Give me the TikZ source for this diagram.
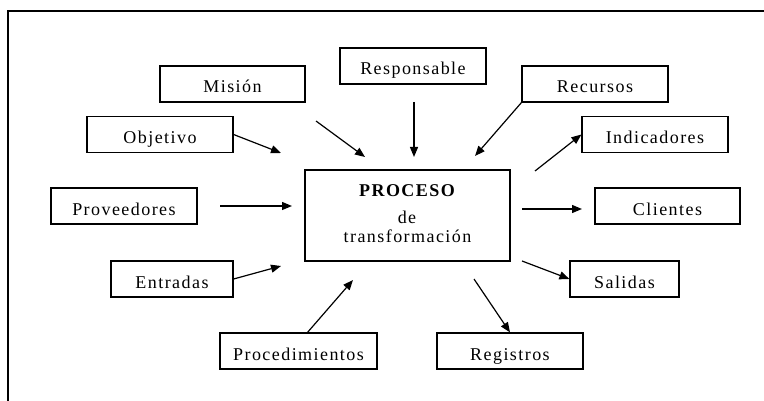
\documentclass[tikz,border=0pt]{standalone}
\usepackage{fontspec}
\setmainfont{Liberation Serif}[LetterSpace=8]
\usetikzlibrary{arrows.meta}
\begin{document}
\begin{tikzpicture}[x=1pt,y=-1pt,
  box/.style={draw,line width=1.2pt,rectangle,inner sep=0pt,minimum height=36pt,
    text height=18pt,text depth=0pt,font=\fontsize{18pt}{20pt}\selectfont},
  lbl/.style={inner sep=0pt,anchor=base,font=\fontsize{18pt}{20pt}\selectfont},
  arr/.style={line width=1.2pt,-{Triangle[length=10pt,width=8pt]}}]
\useasboundingbox (0,0) rectangle (764,401);
\draw[line width=1.3pt] (8,401) -- (8,11) -- (764,11);
% boxes
\node[box,minimum width=145pt] (mis) at (232.5,84) {Misión};
\node[box,minimum width=146pt] (res) at (413,66) {Responsable};
\node[box,minimum width=146pt] (rec) at (595,84) {Recursos};
\node[box,minimum width=146pt] (obj) at (160,134.5) {Objetivo};
\node[box,minimum width=146pt] (ind) at (655,134.5) {Indicadores};
\node[box,minimum width=146pt] (prov) at (124,206) {Proveedores};
\node[box,minimum width=145pt] (cli) at (667.5,206) {Clientes};
\node[box,minimum width=122pt] (ent) at (172,279) {Entradas};
\node[box,minimum width=109pt] (sal) at (624.5,279) {Salidas};
\node[box,minimum width=157pt] (proc) at (298.5,351) {Procedimientos};
\node[box,minimum width=146pt] (reg) at (510,351) {Registros};
\node[draw,line width=1.2pt,rectangle,inner sep=0pt,minimum width=205pt,minimum height=91pt] (pro) at (407.5,215.5) {};
\node[lbl,font=\fontsize{18pt}{20pt}\selectfont\bfseries] (t1) at (407,197) {PROCESO};
\node[lbl] (t2) at (407,224) {de};
\node[lbl] (t3) at (407.5,243) {transformación};
% free ends
\coordinate (a1) at (316,121); \coordinate (b1) at (365,157);
\coordinate (b2) at (281,153);
\coordinate (a3) at (414,102); \coordinate (b3) at (414,157);
\coordinate (b4) at (475,156);
\coordinate (a5) at (535,171);
\coordinate (a6) at (220,206); \coordinate (b6) at (292,206);
\coordinate (a7) at (522,209); \coordinate (b7) at (582,209);
\coordinate (b8) at (281,266);
\coordinate (a9) at (307,333); \coordinate (b9) at (353,280);
\coordinate (a10) at (522,261);
\coordinate (a11) at (474,279);
% arrows
\draw[arr] (a1) -- (b1);
\draw[arr] (obj.east) -- (b2);
\draw[arr] (a3) -- (b3);
\draw[arr] (rec.south west) -- (b4);
\draw[arr] (a5) -- (ind.west);
\draw[arr] (a6) -- (b6);
\draw[arr] (a7) -- (b7);
\draw[arr] (ent.east) -- (b8);
\draw[arr] (a9) -- (b9);
\draw[arr] (a10) -- (sal.west);
\draw[arr] (a11) -- (reg.north);
\end{tikzpicture}
\end{document}
